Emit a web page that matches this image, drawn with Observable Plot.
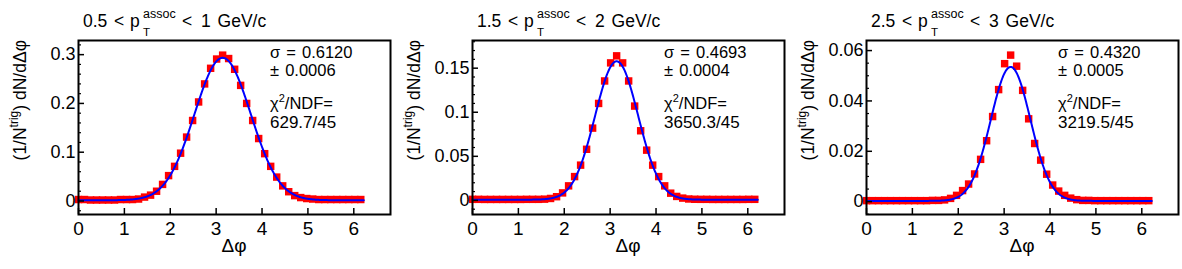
<!DOCTYPE html>
<html>
<head>
<meta charset="utf-8">
<script src="https://cdn.jsdelivr.net/npm/d3@7"></script>
<script src="https://cdn.jsdelivr.net/npm/@observablehq/plot@0.6"></script>
<style>
  html, body { margin: 0; padding: 0; background: #fff; }
  #row { display: flex; width: 1182px; height: 269px; overflow: hidden; }
  #row svg { display: block; flex: none; max-width: none; }
</style>
</head>
<body>
<div id="row"></div>
<script>
// Δφ bin centres: 48 bins, one centred at π
const nBins = 48;
const phi = d3.range(nBins).map(k => k * 2 * Math.PI / nBins);

// (1/N^trig) dN/dΔφ per bin, one array per associated-pT window
const yield05_1 = [
  0.003, 0.003, 0.002, 0.002, 0.002, 0.002, 0.002, 0.003, 0.003, 0.003,
  0.004, 0.008, 0.012, 0.020, 0.034, 0.052, 0.071, 0.098, 0.131, 0.165,
  0.203, 0.240, 0.272, 0.291, 0.299, 0.292, 0.270, 0.237, 0.200, 0.165,
  0.128, 0.097, 0.071, 0.049, 0.031, 0.019, 0.011, 0.007, 0.005, 0.004,
  0.003, 0.003, 0.003, 0.003, 0.003, 0.003, 0.003, 0.003
];
const yield15_2 = [
  0.0012, 0.0012, 0.0011, 0.0011, 0.0011, 0.0011, 0.0011, 0.0011, 0.0011, 0.0012,
  0.0012, 0.0012, 0.0014, 0.0022, 0.0042, 0.0085, 0.0165, 0.0270, 0.0400, 0.0580,
  0.0820, 0.1100, 0.1355, 0.1560, 0.1640, 0.1560, 0.1355, 0.1070, 0.0790, 0.0570,
  0.0400, 0.0270, 0.0165, 0.0082, 0.0045, 0.0026, 0.0016, 0.0013, 0.0012, 0.0012,
  0.0011, 0.0011, 0.0011, 0.0011, 0.0011, 0.0011, 0.0012, 0.0012
];
const yield25_3 = [
  0.0004, 0.0004, 0.0004, 0.0004, 0.0004, 0.0004, 0.0004, 0.0004, 0.0004, 0.0004,
  0.0004, 0.0005, 0.0005, 0.0007, 0.0013, 0.0025, 0.0044, 0.0070, 0.0110, 0.0168,
  0.0242, 0.0338, 0.0445, 0.0548, 0.0582, 0.0538, 0.0442, 0.0329, 0.0231, 0.0165,
  0.0109, 0.0066, 0.0042, 0.0025, 0.0014, 0.0008, 0.0005, 0.0005, 0.0004, 0.0004,
  0.0004, 0.0004, 0.0004, 0.0004, 0.0004, 0.0004, 0.0004, 0.0004
];

// pT window labels
const ptLow  = ["0.5", "1.5", "2.5"];
const ptHigh = ["1", "2", "3"];

// Gaussian fit results
const sigmaText = ["0.6120", "0.4693", "0.4320"];
const sigmaErr  = ["0.0006", "0.0004", "0.0005"];
const chi2Text  = ["629.7/45", "3650.3/45", "3219.5/45"];
const fitAmp    = [0.292, 0.157, 0.0532];
const fitPed    = [0.0015, 0.0008, 0.0003];
const fitRange  = [0, 2 * Math.PI - Math.PI / nBins];

// axis ranges and ticks
const xDomain = [0, 6.8];
const xTicks  = [0, 1, 2, 3, 4, 5, 6];
const yDomains = [[-0.0277, 0.329], [-0.016, 0.1814], [-0.0051, 0.064]];
const yTicks = [[0, 0.1, 0.2, 0.3], [0, 0.05, 0.1, 0.15], [0, 0.02, 0.04, 0.06]];
const yTickLabels = [["0", "0.1", "0.2", "0.3"], ["0", "0.05", "0.1", "0.15"], ["0", "0.02", "0.04", "0.06"]];
const yMinorStep = [0.02, 0.01, 0.005];

const series = [yield05_1, yield15_2, yield25_3];

const FONT = '"Liberation Sans", Arial, Helvetica, sans-serif';
const W = 394, H = 269, mL = 78, mR = 4, mT = 40, mB = 55;
const fw = W - mL - mR, fh = H - mT - mB;

const row = document.getElementById("row");

series.forEach((vals, p) => {
  const points = phi.map((x, i) => ({x, y: vals[i]}));
  const sigma = parseFloat(sigmaText[p]);
  const fitX = d3.range(fitRange[0], fitRange[1], 0.01).concat([fitRange[1]]);
  const fit = fitX.map(x => ({x, y: fitPed[p] + fitAmp[p] * Math.exp(-((x - Math.PI) ** 2) / (2 * sigma * sigma))}));

  const [lo, hi] = yDomains[p];
  const step = yMinorStep[p];
  const minor = d3.range(Math.ceil(lo / step), Math.floor(hi / step) + 1)
    .map(k => +(k * step).toFixed(6))
    .filter(v => !yTicks[p].some(t => Math.abs(t - v) < 1e-9));

  const chart = Plot.plot({
    width: W, height: H,
    marginLeft: mL, marginRight: mR, marginTop: mT, marginBottom: mB,
    style: {fontFamily: FONT, color: "black", background: "white", overflow: "visible"},
    x: {domain: xDomain},
    y: {domain: yDomains[p]},
    marks: [
      Plot.dot(points, {x: "x", y: "y", symbol: "square", r: 4.2, fill: "#ff0000", stroke: "none"}),
      Plot.line(fit, {x: "x", y: "y", stroke: "#0000ff", strokeWidth: 2}),
      Plot.tickY(yTicks[p], {y: d => d, insetRight: fw - 6, stroke: "black", strokeWidth: 1.5}),
      Plot.tickY(minor, {y: d => d, insetRight: fw - 3, stroke: "black", strokeWidth: 1.2}),
      Plot.tickX(xTicks, {x: d => d, insetTop: fh - 6, stroke: "black", strokeWidth: 1.5}),
      Plot.axisX({ticks: xTicks, tickSize: 0, tickPadding: 7, fontSize: 19, label: null, tickFormat: d => String(d)}),
      Plot.axisY({ticks: yTicks[p], tickSize: 0, tickPadding: 3, fontSize: 18, label: null,
                  tickFormat: (d, i) => yTickLabels[p][i]}),
      Plot.frame({stroke: "black", strokeWidth: 2})
    ]
  });
  row.appendChild(chart);

  const svg = d3.select(chart);
  const g = svg.append("g").attr("font-family", FONT).attr("fill", "black")
    .attr("text-anchor", "start");

  // panel title: pT window, p_T^assoc set as stacked sub/superscript
  const title = g.append("g").attr("font-size", 17.5);
  title.append("text").attr("x", 83).attr("y", 27).text(ptLow[p]);
  title.append("text").attr("x", 114).attr("y", 27).text("<");
  title.append("text").attr("x", 130).attr("y", 27).text("p");
  title.append("text").attr("x", 143).attr("y", 18).attr("font-size", 12.5).text("assoc");
  title.append("text").attr("x", 143).attr("y", 36).attr("font-size", 11.5).text("T");
  title.append("text").attr("x", 182).attr("y", 27).text("<");
  title.append("text").attr("x", 201).attr("y", 27).attr("word-spacing", 2).text(`${ptHigh[p]} GeV/c`);

  // fit annotation
  const ann = g.append("g").attr("font-size", 16.5).attr("word-spacing", 1.5);
  ann.append("text").attr("x", 270).attr("y", 57.5).text(`σ = ${sigmaText[p]}`);
  ann.append("text").attr("x", 270).attr("y", 75.5).text(`± ${sigmaErr[p]}`);
  const chi = ann.append("text").attr("x", 270).attr("y", 108.5);
  chi.append("tspan").text("χ");
  chi.append("tspan").attr("font-size", 11).attr("dy", -7).text("2");
  chi.append("tspan").attr("dy", 7).text("/NDF=");
  ann.append("text").attr("x", 270).attr("y", 127.5).attr("font-size", 17).text(chi2Text[p]);

  // axis titles
  g.append("text").attr("x", mL + fw / 2).attr("y", 252).attr("text-anchor", "middle")
    .attr("font-size", 19).text("Δφ");
  const yl = g.append("text").attr("transform", "translate(26,40) rotate(-90)")
    .attr("text-anchor", "end").attr("font-size", 17.5);
  yl.append("tspan").text("(1/N");
  yl.append("tspan").attr("font-size", 12).attr("dy", -8).text("trig");
  yl.append("tspan").attr("dy", 8).text(") dN/dΔφ");
});
</script>
</body>
</html>
